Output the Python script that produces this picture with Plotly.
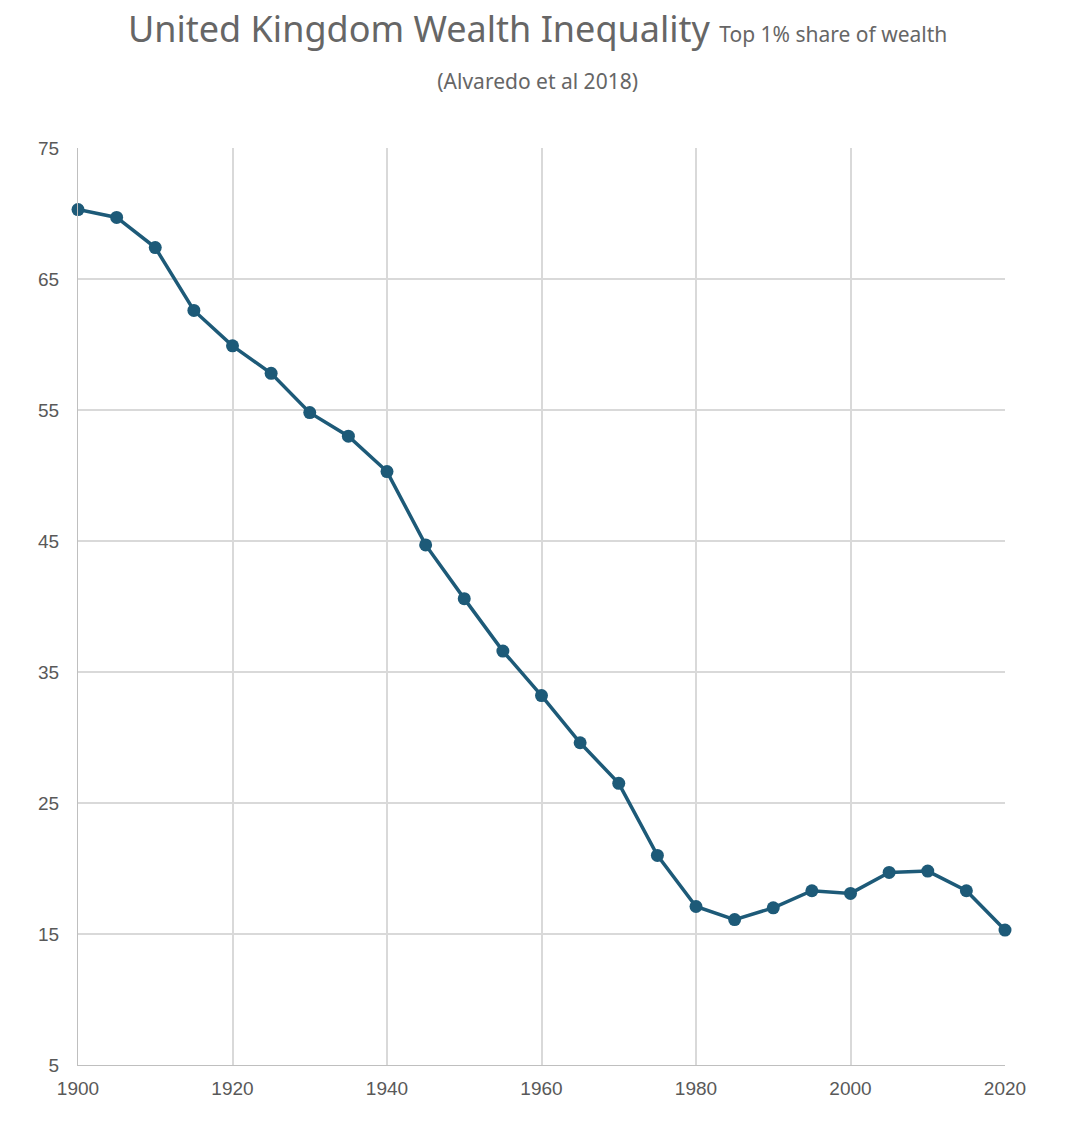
import plotly.graph_objects as go

years = [1900, 1905, 1910, 1915, 1920, 1925, 1930, 1935, 1940, 1945, 1950, 1955, 1960,
         1965, 1970, 1975, 1980, 1985, 1990, 1995, 2000, 2005, 2010, 2015, 2020]
top1_share = [70.3, 69.7, 67.4, 62.6, 59.9, 57.8, 54.8, 53.0, 50.3, 44.7, 40.6, 36.6, 33.2,
              29.6, 26.5, 21.0, 17.1, 16.1, 17.0, 18.3, 18.1, 19.7, 19.8, 18.3, 15.3]

fig = go.Figure(go.Scatter(x=years, y=top1_share, mode="lines+markers", cliponaxis=False,
                           line=dict(color="#1d5a78", width=3.5),
                           marker=dict(color="#1d5a78", size=13)))

fig.update_layout(
    width=1070, height=1139,
    margin=dict(l=70, r=73, t=140, b=82),
    paper_bgcolor="white", plot_bgcolor="white",
    font=dict(family="Liberation Sans, Arial", color="#595959"),
    showlegend=False,
    title=dict(text="United Kingdom Wealth Inequality <span style='font-size:21px'>Top 1% share of wealth</span>"
                    "<br><span style='font-size:21px'>(Alvaredo et al 2018)</span>",
               x=0.495, xanchor="center", y=0.97, yanchor="top",
               font=dict(family="Noto Sans", size=36, color="#666666")),
)
fig.update_xaxes(range=[1900, 2020], tickvals=[1900, 1920, 1940, 1960, 1980, 2000, 2020],
                 showgrid=True, gridcolor="#d9d9d9", gridwidth=1.5, zeroline=False,
                 showline=True, linecolor="#bfbfbf", tickfont=dict(size=19), ticks="",
                 ticklabelstandoff=6)
fig.update_yaxes(range=[5, 75], tickvals=[5, 15, 25, 35, 45, 55, 65, 75],
                 showgrid=True, gridcolor="#d9d9d9", gridwidth=1.5, zeroline=False,
                 showline=True, linecolor="#bfbfbf", tickfont=dict(size=19), ticks="",
                 ticklabelstandoff=14)

fig.write_html("out.html")
